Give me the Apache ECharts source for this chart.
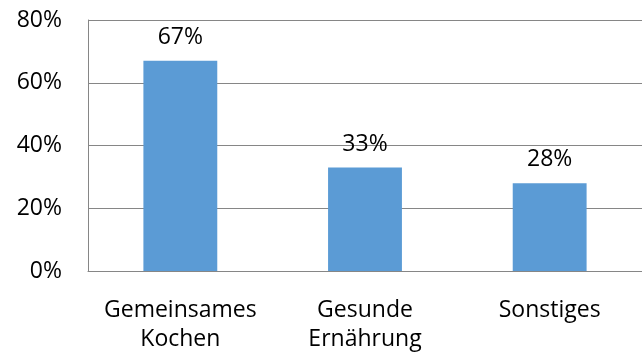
<!DOCTYPE html>
<html>
<head>
<meta charset="utf-8">
<script src="https://cdn.jsdelivr.net/npm/echarts@6/dist/echarts.min.js"></script>
<style>
  html, body { margin: 0; padding: 0; background: #ffffff; }
  #chart { width: 642px; height: 354px; }
</style>
</head>
<body>
<div id="chart"></div>
<script>
// Categories and shares (percent)
var categories = ['Gemeinsames\nKochen', 'Gesunde\nErnährung', 'Sonstiges'];
var shares = [67, 33, 28];
var yTicks = { min: 0, max: 80, step: 20 };

var FONT = '"Open Sans", sans-serif';
var chart = echarts.init(document.getElementById('chart'), null, { renderer: 'canvas' });

chart.setOption({
  animation: false,
  backgroundColor: '#ffffff',
  grid: { left: 88, right: 0, top: 20, bottom: 79.5, containLabel: false },
  xAxis: {
    type: 'category',
    data: categories,
    axisLine: { show: true, lineStyle: { color: '#868686', width: 1 } },
    axisTick: { show: false },
    axisLabel: {
      color: '#000000', fontFamily: FONT, fontSize: 23,
      lineHeight: 29, margin: 25, interval: 0
    }
  },
  yAxis: {
    type: 'value',
    min: yTicks.min, max: yTicks.max, interval: yTicks.step,
    axisLine: { show: true, lineStyle: { color: '#868686', width: 1 } },
    axisTick: { show: false },
    splitLine: { show: true, lineStyle: { color: '#868686', width: 1 } },
    axisLabel: {
      color: '#000000', fontFamily: FONT, fontSize: 23, margin: 26,
      formatter: function (v) { return v + '%'; }
    }
  },
  series: [{
    type: 'bar',
    data: shares,
    barWidth: '40%',
    itemStyle: { color: '#5B9BD5' },
    label: {
      show: true, position: 'top', distance: 12,
      color: '#000000', fontFamily: FONT, fontSize: 23,
      formatter: function (p) { return p.value + '%'; }
    }
  }]
});
</script>
</body>
</html>
